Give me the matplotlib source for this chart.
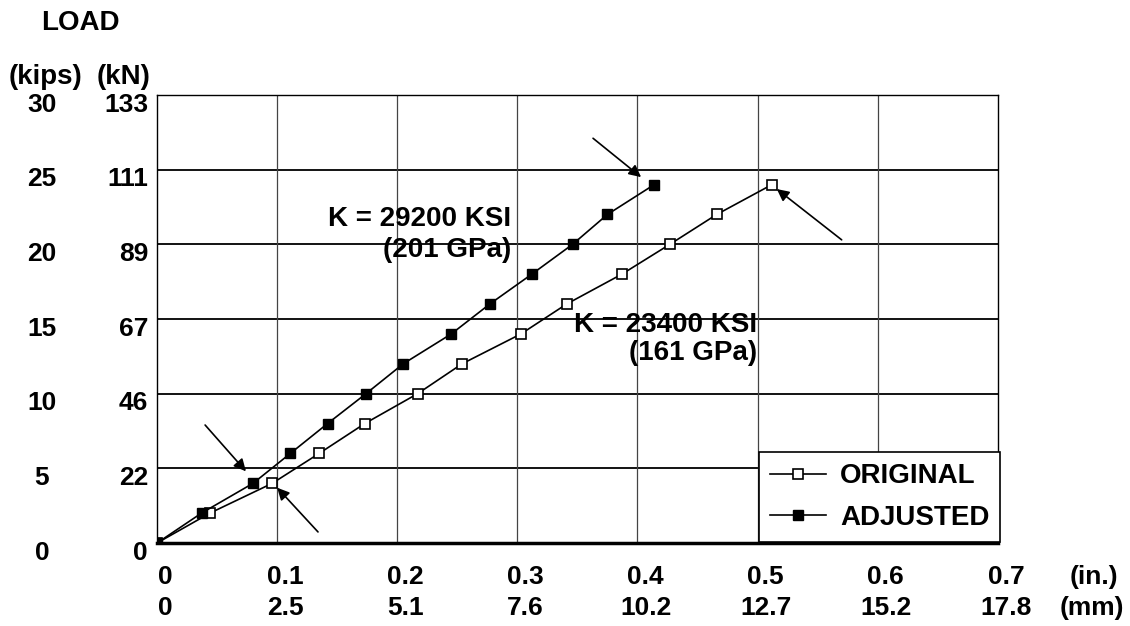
import numpy as np
import matplotlib
matplotlib.use("Agg")
import matplotlib.pyplot as plt
from matplotlib import transforms

# data
load_kips = [0, 2, 4, 6, 8, 10, 12, 14, 16, 18, 20, 22, 24]
disp_original_in = [0, 0.044, 0.096, 0.135, 0.173, 0.217, 0.254, 0.303, 0.341, 0.387, 0.427, 0.466, 0.512]
disp_adjusted_in = [0, 0.037, 0.080, 0.111, 0.142, 0.174, 0.205, 0.245, 0.277, 0.312, 0.346, 0.375, 0.414]

kips_ticks = [0, 5, 10, 15, 20, 25, 30]
kn_labels = ["0", "22", "46", "67", "89", "111", "133"]
in_ticks = [0, 0.1, 0.2, 0.3, 0.4, 0.5, 0.6, 0.7]
in_labels = ["0", "0.1", "0.2", "0.3", "0.4", "0.5", "0.6", "0.7"]
mm_labels = ["0", "2.5", "5.1", "7.6", "10.2", "12.7", "15.2", "17.8"]

plt.rcParams['font.family'] = ['Liberation Sans', 'DejaVu Sans']
plt.rcParams['font.weight'] = 'bold'

fig = plt.figure(figsize=(11.3, 6.26), dpi=100)
ax = fig.add_axes([0.139, 0.1326, 0.744, 0.7157])
ax.set_xlim(0, 0.7)
ax.set_ylim(0, 30)

# grid
for y in kips_ticks[1:-1]:
    ax.axhline(y, color='black', lw=1.3, zorder=1)
for x in in_ticks[1:-1]:
    ax.axvline(x, color='#444444', lw=0.9, zorder=1)

for s in ax.spines.values():
    s.set_linewidth(1.0)
ax.spines['bottom'].set_linewidth(2.5)
ax.set_xticks([])
ax.set_yticks([])

ax.plot(disp_original_in, load_kips, '-s', color='black', lw=1.2,
        mfc='white', mec='black', mew=1.2, ms=6.5, label='ORIGINAL', zorder=3)
ax.plot(disp_adjusted_in, load_kips, '-s', color='black', lw=1.2,
        mfc='black', mec='black', ms=7.5, label='ADJUSTED', zorder=4)

fs = 19
fs2 = 20
# y labels (two columns)
ytr = transforms.blended_transform_factory(fig.transFigure, ax.transData)
for k, kn in zip(kips_ticks, kn_labels):
    ax.text(42 / 1130, k - 0.65, str(k), transform=ytr, ha='center', va='center', fontsize=fs)
    ax.text(148 / 1130, k - 0.65, kn, transform=ytr, ha='right', va='center', fontsize=fs)
fig.text(80 / 1130, 1 - 23 / 626, "LOAD", ha='center', va='center', fontsize=fs2)
fig.text(45 / 1130, 1 - 77 / 626, "(kips)", ha='center', va='center', fontsize=fs2)
fig.text(124 / 1130, 1 - 77 / 626, "(kN)", ha='center', va='center', fontsize=fs2)

# x labels (two rows)
xtr = transforms.blended_transform_factory(ax.transData, fig.transFigure)
for x, li, lm in zip(in_ticks, in_labels, mm_labels):
    ax.text(x + 0.0067, 1 - 577 / 626, li, transform=xtr, ha='center', va='center', fontsize=fs)
    ax.text(x + 0.0067, 1 - 608 / 626, lm, transform=xtr, ha='center', va='center', fontsize=fs)
fig.text(1094 / 1130, 1 - 577 / 626, "(in.)", ha='center', va='center', fontsize=fs)
fig.text(1092 / 1130, 1 - 608 / 626, "(mm)", ha='center', va='center', fontsize=fs)

# annotations
ax.text(0.295, 21.7, "K = 29200 KSI", ha='right', va='center', fontsize=fs2)
ax.text(0.295, 19.6, "(201 GPa)", ha='right', va='center', fontsize=fs2)
ax.text(0.4994, 14.6, "K = 23400 KSI", ha='right', va='center', fontsize=fs2)
ax.text(0.4994, 12.7, "(161 GPa)", ha='right', va='center', fontsize=fs2)

arrows = [((0.363, 27.1), (0.403, 24.5)),
          ((0.570, 20.3), (0.516, 23.7)),
          ((0.040, 7.9), (0.074, 4.8)),
          ((0.134, 0.74), (0.100, 3.7))]
for start, end in arrows:
    ax.annotate("", xy=end, xytext=start,
                arrowprops=dict(arrowstyle='-|>', color='black', lw=1.2,
                                mutation_scale=18, shrinkA=0, shrinkB=0),
                zorder=5)

leg = ax.legend(loc='lower right', bbox_to_anchor=(1.003, 0.003), fontsize=fs2,
                fancybox=False, edgecolor='black', framealpha=1, handlelength=2.0,
                borderpad=0.4, labelspacing=0.55, handletextpad=0.5, borderaxespad=0)
leg.get_frame().set_linewidth(1.2)
leg.set_zorder(6)

fig.savefig("out.png", dpi=100)
